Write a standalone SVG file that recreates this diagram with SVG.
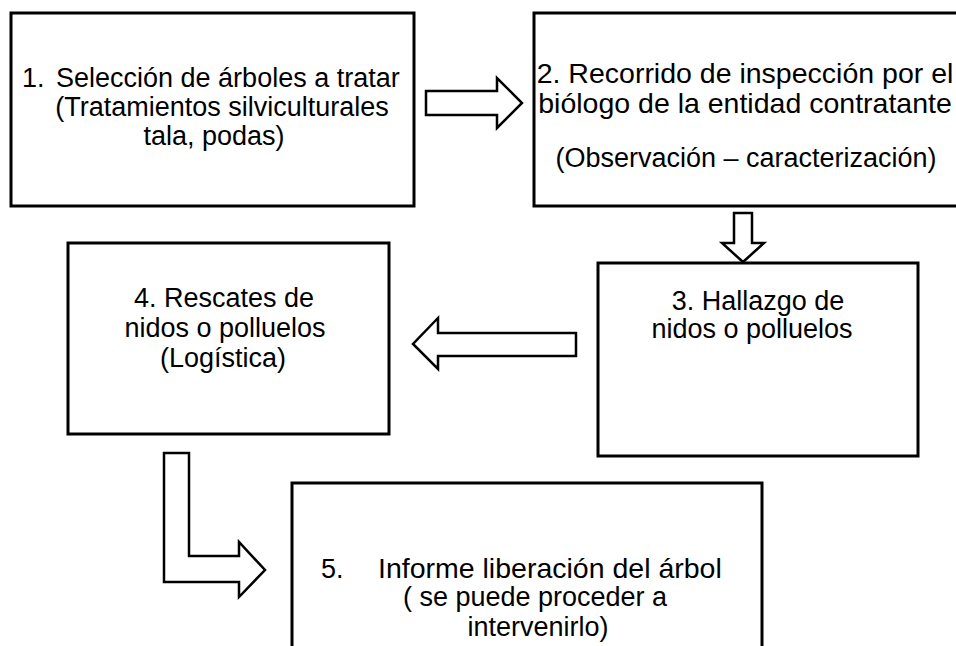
<svg xmlns="http://www.w3.org/2000/svg" width="956" height="646" viewBox="0 0 956 646">
<style>
.box{fill:#fff;stroke:#000;stroke-width:3}
.arr{fill:#fff;stroke:#000;stroke-width:2.5;stroke-linejoin:miter}
text{font-family:"Liberation Sans",Arial,sans-serif;font-size:27px;fill:#000}
.m{text-anchor:middle}
.b{font-size:28.5px}
</style>
<rect width="956" height="646" fill="#fff"/>
<g id="n1">
<rect class="box" x="11" y="13" width="403" height="193"/>
<text x="22" y="87">1.</text><text x="56" y="87">Selección de árboles a tratar</text>
<text class="m" x="222" y="116">(Tratamientos silviculturales</text>
<text class="m" x="214" y="145">tala, podas)</text>
</g>
<g id="n2">
<rect class="box" x="534" y="13" width="440" height="193"/>
<text class="m b" x="745" y="83">2. Recorrido de inspección por el</text>
<text class="m b" x="745" y="113">biólogo de la entidad contratante</text>
<text class="m" x="746" y="167">(Observación – caracterización)</text>
</g>
<g id="n3">
<rect class="box" x="598" y="263" width="320" height="193"/>
<text class="m" x="758" y="310">3. Hallazgo de</text>
<text class="m" x="752" y="338">nidos o polluelos</text>
</g>
<g id="n4">
<rect class="box" x="68" y="243" width="321" height="191"/>
<text class="m" x="224" y="307">4. Rescates de</text>
<text class="m" x="225" y="337">nidos o polluelos</text>
<text class="m" x="223" y="367">(Logística)</text>
</g>
<g id="n5">
<rect class="box" x="292" y="483" width="470" height="200"/>
<text x="321" y="578">5.</text><text class="b" x="378" y="578">Informe liberación del árbol</text>
<text class="m" x="535" y="606">( se puede proceder a</text>
<text class="m" x="538" y="636">intervenirlo)</text>
</g>
<g id="connectors">
<polygon class="arr" points="426,91 497,91 497,78 522,103 497,128 497,115 426,115"/>
<polygon class="arr" points="734,213 752,213 752,243 764,243 743,262 722,243 734,243"/>
<polygon class="arr" points="576,333 438,333 438,318 413,344 438,369 438,356 576,356"/>
<polygon class="arr" points="164,453 189,453 189,556 239,556 239,542 265,570 239,597 239,582 164,582"/>
</g>
</svg>
